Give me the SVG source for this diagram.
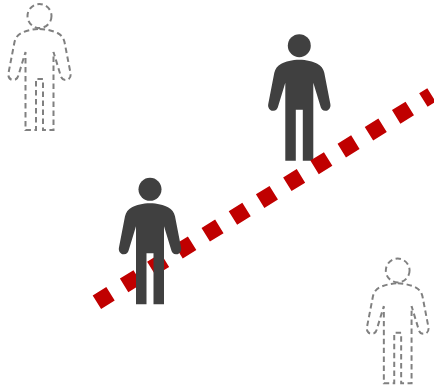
<svg xmlns="http://www.w3.org/2000/svg" width="434" height="390" viewBox="0 0 434 390">
<style>
.solid{fill:#404040;stroke:none}
.outline{fill:none;stroke:#808080;stroke-width:2;stroke-dasharray:5.500 3.500}
#divider{fill:none;stroke:#c00000;stroke-width:16;stroke-dasharray:16 16}
</style>
<defs>
<path id="body" d="M0,14C7,14 14,16 18,18C22,20 24,23 25,27L31,58C32,62 29,65.500 26,65C23.500,65 21.500,63 21,60L14,37L14,115L3.500,115L3.500,64L-3.500,64L-3.500,115L-14,115L-14,37L-21,60C-21.500,63 -23.500,65 -26,65C-29,65.500 -32,62 -31,58L-25,27C-24,23 -22,20 -18,18C-14,16 -7,14 0,14Z"/>
</defs>
<rect width="434" height="390" fill="#ffffff"/>
<g id="person-dashed-top-left" transform="translate(39.500,15)">
<circle class="outline" cx="0" cy="1" r="12"/>
<use href="#body" class="outline"/>
</g>
<g id="person-dashed-bottom-right" transform="translate(397.700,269.500) scale(0.99)">
<circle class="outline" cx="0" cy="1" r="12"/>
<use href="#body" class="outline"/>
</g>
<g id="person-solid-top" transform="translate(299.300,45.700)">
<circle class="solid" cx="0" cy="0" r="11.500"/>
<use href="#body" class="solid"/>
</g>
<line id="divider" x1="96.900" y1="302.200" x2="431.500" y2="95"/>
<g id="person-solid-bottom" transform="translate(150,189.300)">
<circle class="solid" cx="0" cy="0" r="11.500"/>
<use href="#body" class="solid"/>
</g>
</svg>
